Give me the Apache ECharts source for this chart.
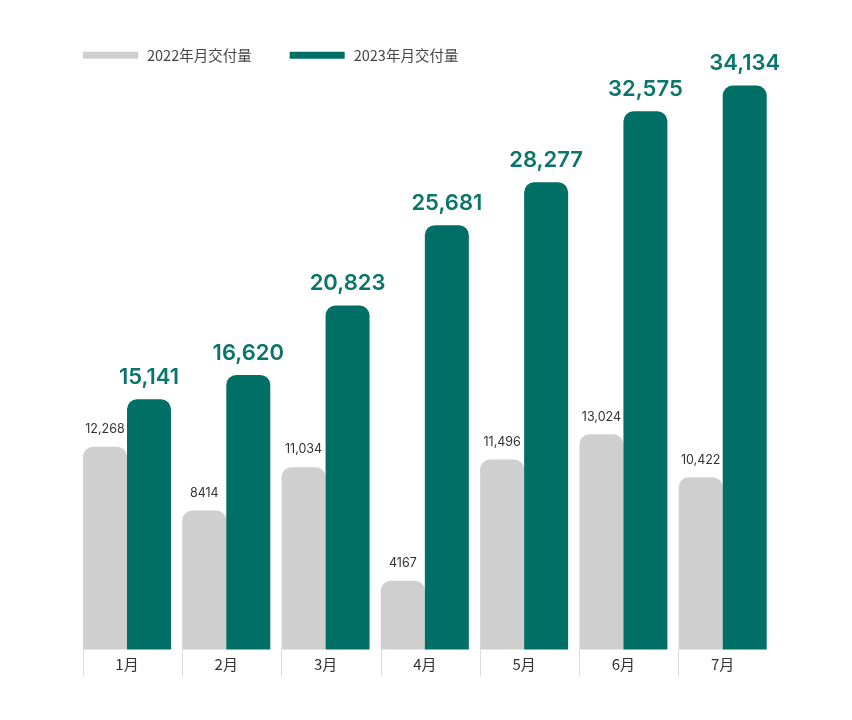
<!DOCTYPE html>
<html>
<head>
<meta charset="utf-8">
<script src="https://cdn.jsdelivr.net/npm/echarts@6/dist/echarts.min.js"></script>
<style>
  html, body { margin: 0; padding: 0; background: #fff; }
  #main { width: 852px; height: 720px; }
</style>
</head>
<body>
<div id="main"></div>
<script>
const months = ['1月', '2月', '3月', '4月', '5月', '6月', '7月'];
const sales2022 = [12268, 8414, 11034, 4167, 11496, 13024, 10422];
const sales2023 = [15141, 16620, 20823, 25681, 28277, 32575, 34134];
const seriesNames = ['2022年月交付量', '2023年月交付量'];

// 过万才加千分位，和原图一致
const fmt = v => v >= 10000 ? v.toLocaleString('en-US') : String(v);

const cjk = '"Noto Sans CJK SC", "Noto Sans", sans-serif';
const num = 'Inter, "Noto Sans", sans-serif';

const option = {
  animation: false,
  legend: {
    left: 78,
    top: 43,
    itemWidth: 55,
    itemHeight: 7,
    itemGap: 38,
    icon: 'rect',
    data: seriesNames,
    textStyle: { fontSize: 14.5, color: '#444', fontFamily: cjk, padding: [0, 0, 0, 4] }
  },
  grid: [
    { left: 77.35, width: 695, top: 54.7, bottom: 70.5 },
    // 只用来画分隔竖线，向左错开半格
    { left: 33.35, width: 695, top: 54.7, bottom: 70.5 }
  ],
  xAxis: [
    {
      type: 'category',
      data: months,
      gridIndex: 0,
      axisLine: { show: false },
      axisTick: { show: false },
      axisLabel: { fontSize: 15, color: '#333', fontFamily: cjk, margin: 7 }
    },
    {
      type: 'category',
      data: months,
      gridIndex: 1,
      axisLine: { show: false },
      axisTick: { show: true, alignWithLabel: true, length: 27, lineStyle: { color: '#dcdcdc', width: 1 } },
      axisLabel: { show: false }
    }
  ],
  yAxis: [
    { type: 'value', min: 0, max: 36000, gridIndex: 0, show: false },
    { type: 'value', min: 0, max: 36000, gridIndex: 1, show: false }
  ],
  series: [
    {
      name: seriesNames[0],
      type: 'bar',
      data: sales2022,
      barWidth: 44,
      barGap: '0%',
      itemStyle: { color: '#cfcfcf', borderRadius: [10, 10, 0, 0] },
      label: {
        show: true,
        position: 'top',
        distance: 11,
        fontSize: 12.5,
        color: '#333',
        fontFamily: num,
        formatter: p => fmt(p.value)
      }
    },
    {
      name: seriesNames[1],
      type: 'bar',
      data: sales2023,
      barWidth: 44,
      itemStyle: { color: '#006f66', borderRadius: [10, 10, 0, 0] },
      label: {
        show: true,
        position: 'top',
        distance: 11,
        fontSize: 22,
        fontWeight: 600,
        color: '#0b756c',
        fontFamily: num,
        formatter: p => fmt(p.value)
      }
    }
  ]
};

const myChart = echarts.init(document.getElementById('main'));
myChart.setOption(option);
</script>
</body>
</html>
